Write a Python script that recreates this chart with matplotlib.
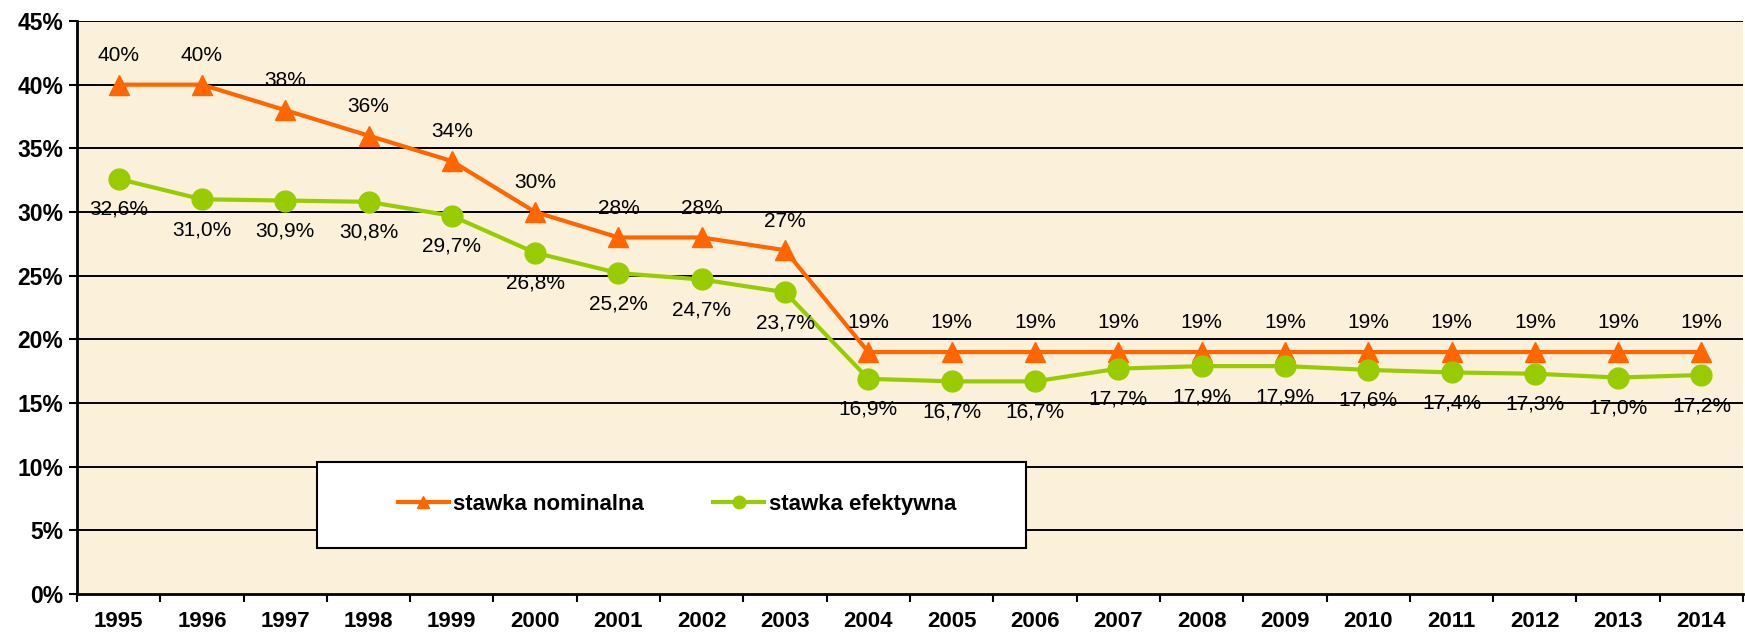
import numpy as np
import matplotlib.pyplot as plt
from matplotlib.patches import Rectangle

# lata i stawki (w %)
lata = ['1995', '1996', '1997', '1998', '1999', '2000', '2001', '2002', '2003', '2004',
        '2005', '2006', '2007', '2008', '2009', '2010', '2011', '2012', '2013', '2014']
nominalna = [40, 40, 38, 36, 34, 30, 28, 28, 27, 19, 19, 19, 19, 19, 19, 19, 19, 19, 19, 19]
efektywna = [32.6, 31.0, 30.9, 30.8, 29.7, 26.8, 25.2, 24.7, 23.7, 16.9,
             16.7, 16.7, 17.7, 17.9, 17.9, 17.6, 17.4, 17.3, 17.0, 17.2]
y_ticks = [0, 5, 10, 15, 20, 25, 30, 35, 40, 45]

plt.rcParams['font.family'] = ['Liberation Sans', 'DejaVu Sans']

fig = plt.figure(figsize=(17.45, 6.33), dpi=100)
ax = fig.add_axes([0.0441, 0.0616, 0.9548, 0.9052])
ax.set_facecolor('#FBF0DA')

x = np.arange(len(lata))

# siatka
for v in y_ticks[1:]:
    ax.axhline(v, color='black', lw=1.4, zorder=1)

ax.plot(x, nominalna, color='#FF6600', lw=3, marker='^', ms=15,
        label='stawka nominalna', zorder=3)
ax.plot(x, efektywna, color='#99CC00', lw=3, marker='o', ms=15,
        label='stawka efektywna', zorder=3)

# etykiety danych
for xi, v in zip(x, nominalna):
    ax.annotate(f'{v}%', (xi, v), xytext=(0, 21), textcoords='offset points',
                ha='center', va='center', fontsize=15, zorder=4)
for xi, v in zip(x, efektywna):
    ax.annotate(f'{v:.1f}%'.replace('.', ','), (xi, v), xytext=(0, -22),
                textcoords='offset points', ha='center', va='center',
                fontsize=15, zorder=4)

ax.set_xlim(-0.5, len(lata) - 0.5)
ax.set_ylim(0, 45)
ax.set_yticks(y_ticks)
ax.set_yticklabels([f'{v}%' for v in y_ticks], fontsize=16.5, fontweight='bold')
ax.set_xticks(np.arange(len(lata) + 1) - 0.5)
ax.set_xticklabels([])
ax.set_xticks(x, minor=True)
ax.set_xticklabels(lata, minor=True, fontsize=16, fontweight='bold')
ax.tick_params(axis='x', which='major', length=6, width=1.5, color='black')
ax.tick_params(axis='x', which='minor', length=0, pad=12)
ax.tick_params(axis='y', length=6, width=1.5, pad=4)

for s in ['top', 'right']:
    ax.spines[s].set_visible(False)
ax.spines['left'].set_linewidth(2)
ax.spines['bottom'].set_linewidth(2)

# ramka legendy
ax.add_patch(Rectangle((0.144, 0.080), 0.4256, 0.150, transform=ax.transAxes,
                       facecolor='white', edgecolor='black', lw=1.5, zorder=5))
leg = ax.legend(loc='center', bbox_to_anchor=(0.360, 0.157), ncol=2, fontsize=16,
                frameon=False, handlelength=2.3, handletextpad=0.2,
                columnspacing=3.1, markerscale=0.6)
leg.set_zorder(6)
for t in leg.get_texts():
    t.set_fontweight('bold')

plt.savefig('out.png', dpi=100)
